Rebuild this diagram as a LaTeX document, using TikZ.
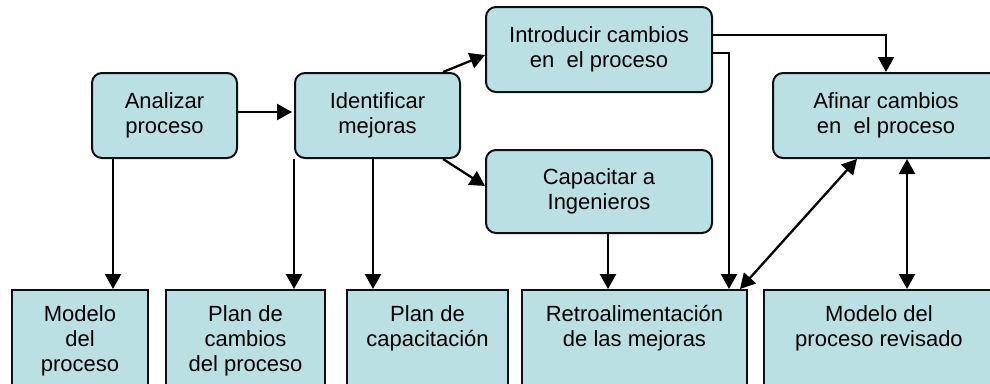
\documentclass[tikz,border=0pt]{standalone}
\usepackage{fontspec}
\setmainfont{Liberation Sans}
\usetikzlibrary{calc,arrows.meta}
\definecolor{boxFill}{RGB}{186,224,228}
\definecolor{boxLine}{RGB}{15,15,15}
\tikzset{
  procbox/.style={draw=boxLine,fill=boxFill,line width=2pt,rounded corners=10pt,
    align=center,inner sep=0pt,minimum height=85pt},
  prodbox/.style={draw=boxLine,fill=boxFill,line width=2pt,minimum height=110pt,inner sep=0pt},
  prodtext/.style={anchor=north,align=center,inner sep=0pt,yshift=-16pt},
  arr/.style={line width=2.3pt,draw=black,-{Triangle[length=15pt,width=16pt]}},
  darr/.style={line width=2.3pt,draw=black,{Triangle[length=15pt,width=16pt]}-{Triangle[length=15pt,width=16pt]}}
}
\begin{document}
\begin{tikzpicture}[x=1pt,y=-1pt,font=\fontsize{22}{25}\selectfont]
\useasboundingbox (0,0) rectangle (990,383);
\clip (0,0) rectangle (990,383);
% process steps
\node[procbox,minimum width=145pt] (ana) at (164.5,115.5) {Analizar\\proceso};
\node[procbox,minimum width=165pt] (ide) at (377.5,115.5) {Identificar\\mejoras};
\node[procbox,minimum width=226pt] (intro) at (599,49.5) {Introducir cambios\\en~ el proceso};
\node[procbox,minimum width=226pt,minimum height=83pt] (cap) at (599,191.5) {Capacitar a\\Ingenieros};
\node[procbox,minimum width=226pt] (afi) at (886,115.5) {Afinar cambios\\en~ el proceso};
% products
\node[prodbox,minimum width=136pt,label={[prodtext]north:Modelo\\del\\proceso}] (mod) at (80,345) {};
\node[prodbox,minimum width=159pt,label={[prodtext]north:Plan de\\cambios\\del proceso}] (plc) at (245.5,345) {};
\node[prodbox,minimum width=161pt,label={[prodtext]north:Plan de\\capacitación}] (pcap) at (427.5,345) {};
\node[prodbox,minimum width=225pt,label={[prodtext]north:Retroalimentación\\de las mejoras}] (retro) at (634.5,345) {};
\node[prodbox,minimum width=230pt,label={[prodtext]north:Modelo del\\proceso revisado}] (rev) at (879,345) {};
% connectors
\draw[arr] ([yshift=3.5pt]ana.east) -- ([yshift=3.5pt,xshift=-2pt]ide.west);
\draw[arr] (ana.south -| 113,0) -- (mod.north -| 113,0);
\draw[arr] (ide.south -| 294,0) -- (plc.north -| 294,0);
\draw[arr] (ide.south -| 373,0) -- (pcap.north -| 373,0);
\draw[arr] (ide.north -| 443,0) -- (intro.west |- 0,55);
\draw[arr] (ide.south -| 443,0) -- (cap.west |- 0,186);
\draw[arr] (intro.east |- 0,35) -| (afi.north);
\draw[arr] (intro.east |- 0,53) -| (retro.north -| 729,0);
\draw[arr] (cap.south -| 608,0) -- (retro.north -| 608,0);
\draw[darr] (afi.south -| 857,0) -- (retro.north -| 740,0);
\draw[darr] (afi.south -| 907,0) -- (rev.north -| 907,0);
\end{tikzpicture}
\end{document}
